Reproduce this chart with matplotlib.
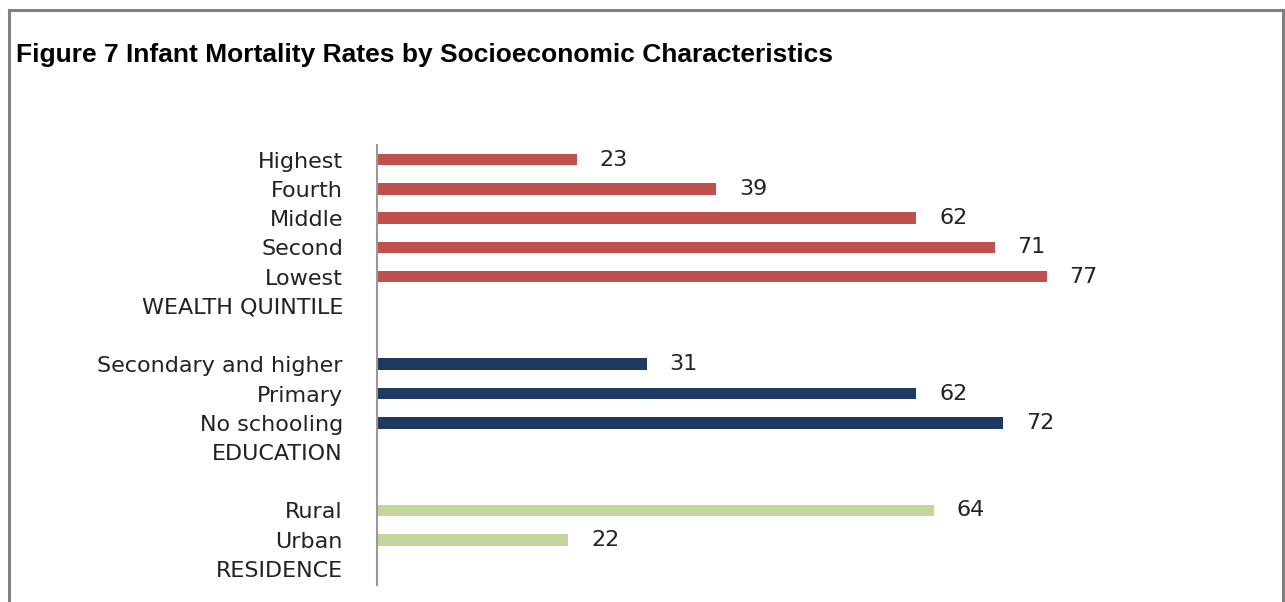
import matplotlib.pyplot as plt
from matplotlib.lines import Line2D

# Infant mortality rates (deaths per 1,000 live births)
wealth_labels = ["Highest", "Fourth", "Middle", "Second", "Lowest"]
wealth_values = [23, 39, 62, 71, 77]

education_labels = ["Secondary and higher", "Primary", "No schooling"]
education_values = [31, 62, 72]

residence_labels = ["Rural", "Urban"]
residence_values = [64, 22]

groups = [
    ("WEALTH QUINTILE", wealth_labels, wealth_values, "#C0504D"),
    ("EDUCATION", education_labels, education_values, "#1F3A60"),
    ("RESIDENCE", residence_labels, residence_values, "#C3D69B"),
]

fig = plt.figure(figsize=(12.85, 6.02), dpi=100)
ax = fig.add_axes([0.2934, 0.0282, 0.677, 0.7309])

tick_pos = []
tick_text = []
row = 0
for header, labels, values, color in groups:
    for label, value in zip(labels, values):
        ax.barh(row, value, height=0.4, color=color)
        ax.text(value + 2.6, row, str(value), va="center", ha="left",
                fontsize=16, color="#222222")
        tick_pos.append(row)
        tick_text.append(label)
        row += 1
    # group header sits under its categories, then one empty row
    tick_pos.append(row)
    tick_text.append(header)
    row += 2

ax.set_yticks(tick_pos)
ax.set_yticklabels(tick_text, fontsize=16, color="#222222")
ax.tick_params(axis="y", length=0, pad=24.5)
ax.set_xticks([])
ax.set_xlim(0, 100)
ax.set_ylim(14.55, -0.5)
for side in ["top", "right", "bottom"]:
    ax.spines[side].set_visible(False)
ax.spines["left"].set_color("#999999")
ax.spines["left"].set_linewidth(1.5)

fig.text(16 / 1285, 1 - 55 / 602, "Figure 7 Infant Mortality Rates by Socioeconomic Characteristics",
         fontsize=19, fontweight="bold", family="Liberation Sans", va="center", ha="left")

# gray frame around the figure (open at the bottom)
frame_color = "#808080"
x0, x1 = 9 / 1285, 1283 / 1285
ytop = 1 - 9.5 / 602
fig.add_artist(Line2D([x0, x1], [ytop, ytop], color=frame_color, lw=2.2))
fig.add_artist(Line2D([x0, x0], [0, ytop], color=frame_color, lw=2.2))
fig.add_artist(Line2D([x1, x1], [0, ytop], color=frame_color, lw=2.2))

fig.savefig("out.png", dpi=100)
